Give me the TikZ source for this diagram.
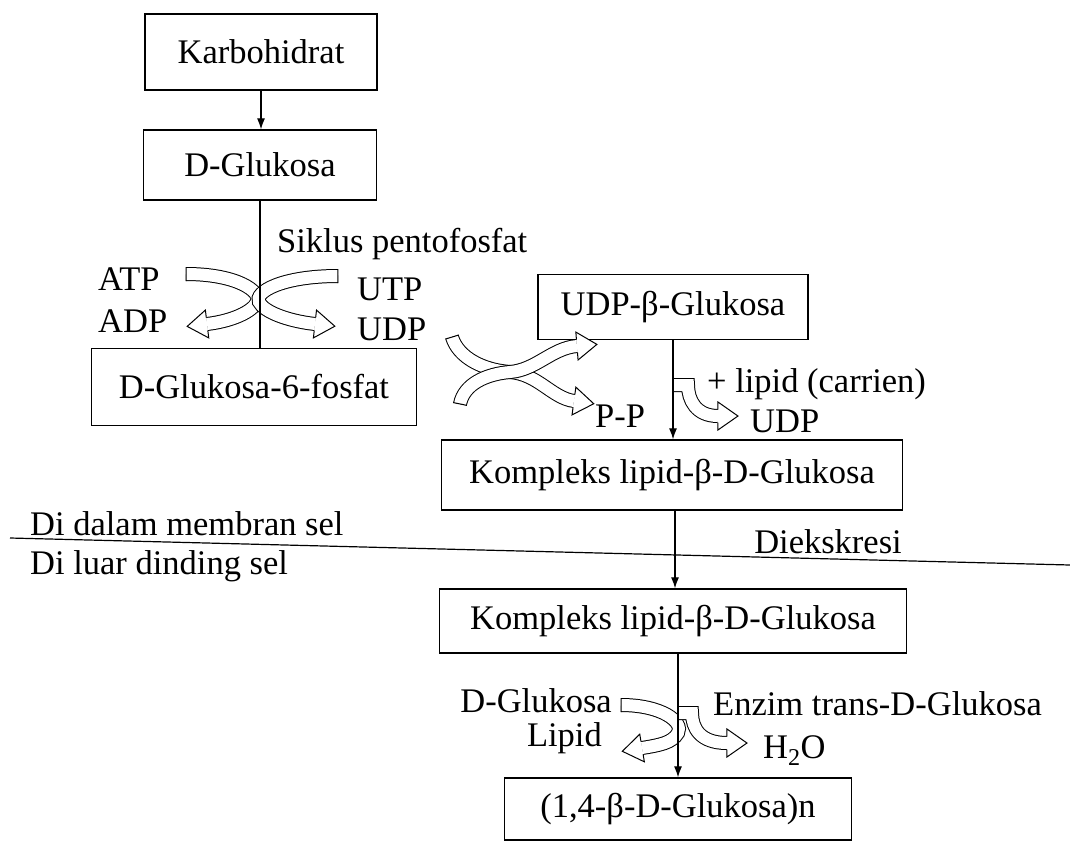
\documentclass[tikz,border=0pt]{standalone}
\usepackage{fontspec}
\setmainfont{Liberation Serif}
\usetikzlibrary{arrows.meta,decorations.markings,calc}
\newcommand\fsz{\fontsize{34.5}{40}\selectfont}
\tikzset{
  every node/.style={font=\fsz},
  pbox/.style={draw, line width=1.3pt, inner sep=0pt, align=center},
  conn/.style={line width=1.2pt},
  arr/.style={conn, -{Latex[length=11pt,width=8pt]}},
  lbl/.style={inner sep=0pt},
  fatbody/.style={draw, line width=1pt, double=white, double distance=12pt, line join=miter},
  fatmarks/.style={decoration={markings,
    mark=at position 0.05pt with {\draw[line width=1pt] (0pt,-7pt) -- (0pt,7pt);},
    mark=at position -0.05pt with {\fill[white] (0pt,-14pt) -- (20pt,0pt) -- (0pt,14pt) -- cycle;
      \draw[line width=1pt, line join=miter] (0pt,-6.5pt) -- (0pt,-14pt) -- (20pt,0pt) -- (0pt,14pt) -- (0pt,6.5pt);}},
    decorate}
}
\newcommand\fatarrow[1]{\draw[fatbody] #1; \path[fatmarks] #1;}
\begin{document}
\begin{tikzpicture}[x=1pt,y=-1pt]
\useasboundingbox (0,0) rectangle (1070,846);

% boxes
\node[pbox, minimum width=232pt, minimum height=76pt] (karbo) at (261,52) {Karbohidrat};
\node[pbox, minimum width=233pt, minimum height=70pt] (dglu) at (260,165) {D-Glukosa};
\node[pbox, minimum width=325pt, minimum height=77pt] (g6p) at (254,387) {D-Glukosa-6-fosfat};
\node[pbox, minimum width=270pt, minimum height=65pt] (udpg) at (673,307) {UDP-β-Glukosa};
\node[pbox, minimum width=461pt, minimum height=70pt] (komp1) at (672,475) {Kompleks lipid-β-D-Glukosa};
\node[pbox, minimum width=467pt, minimum height=64pt] (komp2) at (673,621) {Kompleks lipid-β-D-Glukosa};
\node[pbox, minimum width=347pt, minimum height=62pt] (final) at (678,809) {(1,4-β-D-Glukosa)n};

% labels
\node[lbl, anchor=base west] (siklus) at (277,252) {Siklus pentofosfat};
\node[lbl, anchor=base west] (atp) at (98,290) {ATP};
\node[lbl, anchor=base west] (adp) at (98,332) {ADP};
\node[lbl, anchor=base west] (utp) at (357,300) {UTP};
\node[lbl, anchor=base west] (udp1) at (357,340) {UDP};
\node[lbl, anchor=base west] (pp) at (595,427) {P-P};
\node[lbl, anchor=base west] (lipidc) at (707,392) {+ lipid (carrien)};
\node[lbl, anchor=base west] (udp2) at (750,432) {UDP};
\node[lbl, anchor=base west] (dalam) at (30,535) {Di dalam membran sel};
\node[lbl, anchor=base west] (luar) at (30,574) {Di luar dinding sel};
\node[lbl, anchor=base east] (ekskresi) at (902,553) {Diekskresi};
\node[lbl, anchor=base east] (dglu2) at (612,712) {D-Glukosa};
\node[lbl, anchor=base east] (lipid) at (602,746) {Lipid};
\node[lbl, anchor=base west] (enzim) at (713,715) {Enzim trans-D-Glukosa};
\node[lbl, anchor=base west] (h2o) at (763,758) {H\textsubscript{2}O};

% fat arrows
\fatarrow{(186,274) .. controls (238,274) and (262,292) .. (257,302) .. controls (252,312) and (232,321) .. (207,324)}
\fatarrow{(338,276) .. controls (282,276) and (254,292) .. (259,302) .. controls (264,312) and (288,321) .. (315,324)}
\fatarrow{(452,337) .. controls (458,357) and (482,370) .. (510,372) .. controls (538,374) and (552,398) .. (574,401)}
\fatarrow{(460,404) .. controls (464,384) and (486,374) .. (510,372) .. controls (536,370) and (552,348) .. (577,346)}
\fatarrow{(673,385) -- (688,385) .. controls (688,400) and (696,416) .. (718,416)}
\fatarrow{(621,705) .. controls (662,705) and (684,722) .. (678,733) .. controls (672,743) and (660,745) .. (642,748)}
\fatarrow{(678,713) -- (692,713) .. controls (692,728) and (700,743) .. (727,743)}

% connectors
\draw[arr] (karbo.south) -- (karbo.south |- dglu.north);
\draw[conn] (dglu.south) -- (dglu.south |- g6p.north);
\draw[arr] (udpg.south) -- (udpg.south |- komp1.north);
\draw[arr] ([xshift=3pt]komp1.south) -- ([xshift=3pt]komp1.south |- komp2.north);
\draw[arr] (final.north |- komp2.south) -- (final.north);

% membrane line
\coordinate (mL) at (10,538);
\coordinate (mR) at (1070,565);
\draw[conn] (mL) -- (mR);
\end{tikzpicture}
\end{document}
